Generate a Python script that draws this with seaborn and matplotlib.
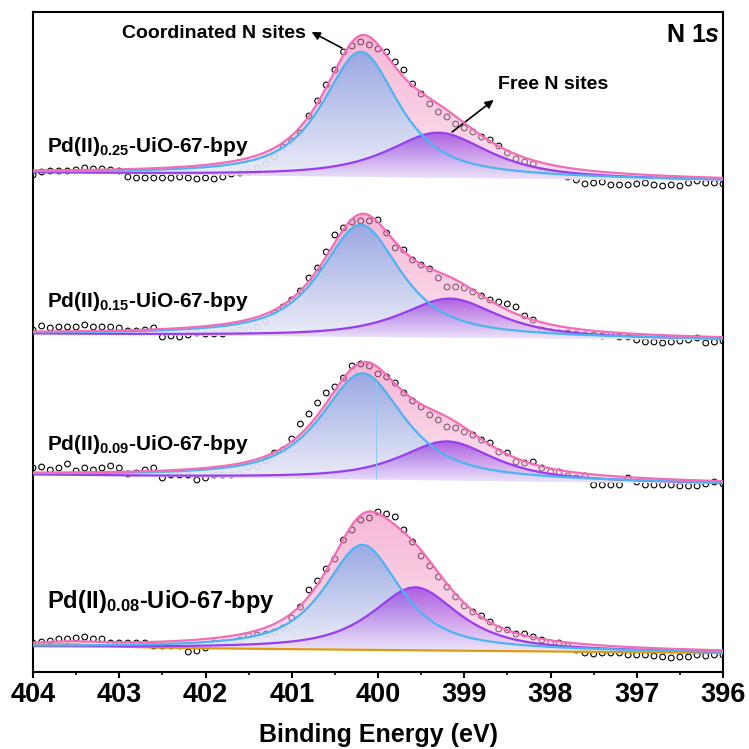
import numpy as np
import matplotlib
matplotlib.use("Agg")
import matplotlib.pyplot as plt
from matplotlib.colors import LinearSegmentedColormap
from matplotlib.ticker import MultipleLocator
import seaborn as sns

# ---- data (intensity in a.u., relative to each panel's left baseline) ----
ENERGY = np.linspace(404.0, 396.0, 81)          # 0.1 eV steps of the measurement
LABELS = ["Pd(II)$_{0.25}$-UiO-67-bpy", "Pd(II)$_{0.15}$-UiO-67-bpy",
          "Pd(II)$_{0.09}$-UiO-67-bpy", "Pd(II)$_{0.08}$-UiO-67-bpy"]
OFFSETS = [499, 338, 197, 25]
BASE_END = [-8, -6, -9, -6]                      # linear background value at 396 eV

int_025 = [-2, 1, 2, 2, 2, 3, 5, 4, 4, 3, 2, -4, -5, -5, -5, -5, -5, -4, -5, -6, -5, -6, -4, -1, 0, 1, 5, 9,
           16, 26, 32, 40, 57, 72, 88, 103, 121, 127, 131, 128, 124, 121, 111, 103, 89, 79, 69, 61, 56,
           49, 45, 41, 36, 33, 27, 20, 14, 11, 9, 1, 0, -2, -4, -7, -11, -10, -9, -12, -12, -12, -11,
           -10, -12, -13, -12, -13, -10, -8, -10, -10, -11]
int_015 = [4, 8, 6, 7, 7, 7, 9, 7, 7, 7, 6, 3, 3, 4, 6, -3, -2, -3, -1, 1, 0, 0, 0, 2, 4, 4, 7, 12, 21,
           27, 34, 43, 56, 66, 82, 99, 106, 112, 113, 113, 114, 101, 86, 84, 74, 69, 65, 56, 47, 47, 46,
           42, 38, 34, 32, 30, 27, 18, 14, 4, 2, 1, 1, 0, -1, -1, -2, -1, -3, -3, -6, -8, -8, -9, -8, -7,
           -6, -4, -9, -8, -7]
int_009 = [7, 8, 5, 7, 11, 4, 7, 5, 7, 9, 7, 1, 2, 5, 7, -3, 0, 0, 0, -5, -3, 0, 0, 0, 1, 8, 8, 14, 22,
           25, 36, 51, 61, 72, 82, 88, 97, 109, 111, 109, 101, 98, 92, 82, 74, 68, 60, 55, 48, 47, 43, 40,
           35, 32, 23, 22, 13, 12, 13, 7, 3, 3, -1, -3, -1, -10, -10, -10, -10, -3, -7, -10, -10, -10,
           -10, -11, -11, -11, -9, -7, -9]
int_008 = [4, 5, 6, 8, 8, 9, 10, 8, 8, 4, 4, 4, 4, 4, 1, 1, 1, 1, -5, -4, -1, 4, 4, 4, 7, 11, 12, 13, 15,
           19, 29, 40, 57, 66, 78, 88, 107, 117, 127, 129, 135, 133, 130, 117, 105, 91, 81, 70, 60, 50,
           41, 35, 31, 25, 18, 17, 13, 13, 10, 7, 4, 4, 1, -3, -6, -7, -6, -6, -6, -8, -8, -8, -9, -10,
           -11, -10, -10, -8, -9, -8, -8]
SPECTRA = [int_025, int_015, int_009, int_008]

# fitted components: (centre eV, height, FWHM eV)
COORD_PEAK = [(400.20, 125, 1.05), (400.20, 112, 1.10), (400.18, 106, 1.15), (400.18, 105, 1.05)]
FREE_PEAK = [(399.30, 45, 1.40), (399.17, 39, 1.35), (399.20, 39, 1.30), (399.57, 63, 1.20)]
SAT_PEAK = (403.6, 3, 1.0)  # small orange component, lowest sample only
GL_MIX = 0.8


def pseudo_voigt(x, c, h, w):
    lor = 1.0 / (1.0 + (2 * (x - c) / w) ** 2)
    gau = np.exp(-4 * np.log(2) * ((x - c) / w) ** 2)
    return h * (GL_MIX * lor + (1 - GL_MIX) * gau)


def gradient_fill(ax, x, lower, upper, colors, alpha, z):
    poly = ax.fill_between(x, lower, upper, facecolor="none", edgecolor="none", zorder=z)
    cmap = LinearSegmentedColormap.from_list("g", colors)
    im = ax.imshow(np.linspace(0, 1, 256).reshape(-1, 1), cmap=cmap, aspect="auto", origin="lower",
                   extent=[404, 396, lower.min(), upper.max()], alpha=alpha, zorder=z,
                   interpolation="bilinear")
    im.set_clip_path(poly.get_paths()[0], transform=ax.transData)


sns.set_theme(style="ticks")
plt.rcParams["font.family"] = ["Liberation Sans", "DejaVu Sans"]
plt.rcParams.update({
    "font.weight": "bold",
    "text.color": "black",
    "axes.labelcolor": "black",
    "xtick.color": "black",
    "mathtext.fontset": "custom",
    "mathtext.rm": "Liberation Sans:bold",
    "mathtext.bf": "Liberation Sans:bold",
    "mathtext.it": "Liberation Sans:bold:italic",
})

fig = plt.figure(figsize=(7.49, 7.49), dpi=100)
ax = fig.add_axes([0.0441, 0.1028, 0.9212, 0.8812])

grid = np.linspace(404, 396, 801)
PINK, BLUE, PURPLE, ORANGE = "#F26DB5", "#4DB4F2", "#9A3DF0", "#E09A0E"
LABEL_Y = [520, 365, 222, 64]
LABEL_SIZE = [15, 15, 15, 17]

for k in range(4):
    off = OFFSETS[k]
    base = off + BASE_END[k] * (404 - grid) / 8.0
    blue = pseudo_voigt(grid, *COORD_PEAK[k])
    purple = pseudo_voigt(grid, *FREE_PEAK[k])
    orange = pseudo_voigt(grid, *SAT_PEAK) if k == 3 else np.zeros_like(grid)
    env = base + blue + purple + orange

    sns.scatterplot(x=ENERGY, y=off + np.array(SPECTRA[k]), ax=ax, marker="o", s=17,
                    linewidth=0.8, edgecolor="black", zorder=1)
    ax.collections[-1].set_facecolor("none")

    gradient_fill(ax, grid, base, env, ["#F9CAE2", "#F07CB4"], 0.55, 2)
    gradient_fill(ax, grid, base, base + blue, ["#EEF3FC", "#8AA5E4"], 0.85, 3)
    gradient_fill(ax, grid, base, base + purple, ["#F0E6FB", "#8F34DE"], 0.72, 4)

    if k == 3:
        sns.lineplot(x=grid, y=base + orange, ax=ax, color=ORANGE, lw=1.6, sort=False,
                     estimator=None, zorder=5)
    sns.lineplot(x=grid, y=base + purple, ax=ax, color=PURPLE, lw=1.6, sort=False,
                 estimator=None, zorder=6)
    sns.lineplot(x=grid, y=base + blue, ax=ax, color=BLUE, lw=1.6, sort=False,
                 estimator=None, zorder=6)
    sns.lineplot(x=grid, y=env, ax=ax, color=PINK, lw=1.6, sort=False, estimator=None, zorder=7)

    if k == 2:
        e0 = 400.02
        b0 = off + BASE_END[k] * (404 - e0) / 8.0
        ax.vlines(e0, b0, b0 + pseudo_voigt(e0, *COORD_PEAK[k]), color="#8EC9F2", lw=0.7, zorder=6)

    ax.text(403.84, LABEL_Y[k], LABELS[k], fontsize=LABEL_SIZE[k], fontweight="bold",
            va="baseline", ha="left", zorder=8)

ax.text(401.9, 638, "Coordinated N sites", fontsize=14, fontweight="bold", ha="center", va="center")
ax.annotate("", xy=(400.77, 640), xytext=(400.42, 624),
            arrowprops=dict(arrowstyle="-|>", lw=1.2, color="black", mutation_scale=12,
                            shrinkA=0, shrinkB=0))
ax.text(397.97, 587, "Free N sites", fontsize=14, fontweight="bold", ha="center", va="center")
ax.annotate("", xy=(398.66, 572), xytext=(399.14, 540),
            arrowprops=dict(arrowstyle="-|>", lw=1.2, color="black", mutation_scale=12,
                            shrinkA=0, shrinkB=0))
ax.text(396.03, 637, "N 1$\\it{s}$", fontsize=18, fontweight="bold", ha="right", va="center")

ax.set_xlim(404, 396)
ax.set_ylim(0, 660)
ax.set_yticks([])
ax.set_xticks(range(404, 395, -1))
ax.xaxis.set_minor_locator(MultipleLocator(0.5))
ax.tick_params(axis="x", which="major", direction="out", length=4, width=1.5, labelsize=19.5,
               pad=3, colors="black")
ax.tick_params(axis="x", which="minor", direction="out", length=2, width=1.2, colors="black")
for sp in ax.spines.values():
    sp.set_linewidth(1.5)
    sp.set_color("black")
ax.set_xlabel("Binding Energy (eV)", fontsize=18, fontweight="bold", labelpad=11)
ax.set_ylabel("")

fig.savefig("out.png", dpi=100)
